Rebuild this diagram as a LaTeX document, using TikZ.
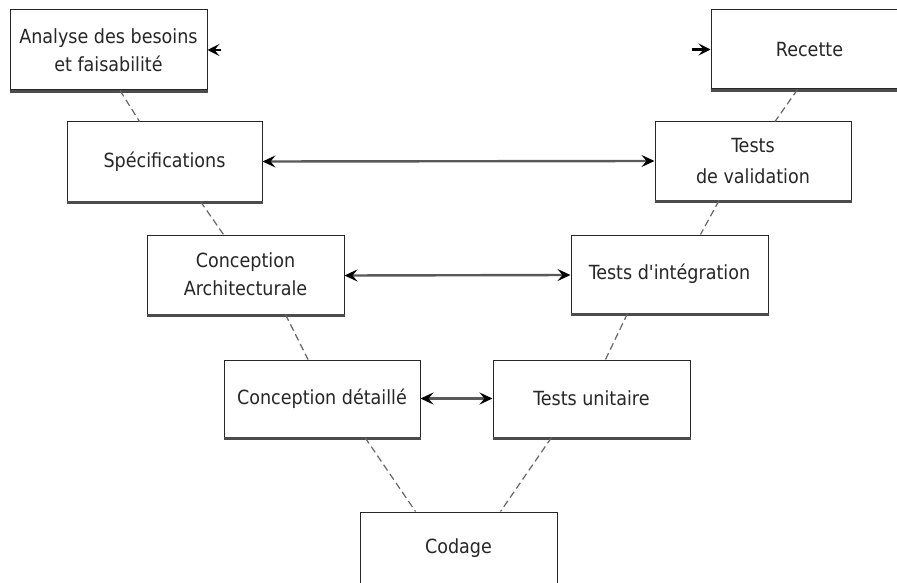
\documentclass[tikz,border=0pt]{standalone}
\usepackage{fontspec}
\setmainfont{DejaVu Sans Condensed}[Ligatures=TeXOff]
\usetikzlibrary{arrows.meta}
\begin{document}
\begin{tikzpicture}[x=1pt,y=-1pt,
  phase/.style={draw=black!85,line width=1pt,fill=white,align=center,
    inner sep=0pt,font=\fontsize{19.5}{28}\selectfont,text=black!85},
  base/.style={draw=black!70,line width=3pt},
  link/.style={draw=black!60,line width=1.2pt,dash pattern=on 7pt off 4pt},
  trace/.style={draw=black!65,line width=2.4pt,{Stealth[length=13pt,width=12pt,inset=5pt,black]}-{Stealth[length=13pt,width=12pt,inset=5pt,black]}},
  half/.style={draw=black,line width=2.5pt,-{Stealth[length=12pt,width=12pt,inset=5pt,black]}}]
\clip (0,0) rectangle (897,583);
\fill[white] (0,0) rectangle (897,583);

% left branch of the V
\node[phase,minimum width=197pt,minimum height=80pt] (ana) at (108.5,50) {Analyse des besoins\\et faisabilité};
\node[phase,minimum width=195pt,minimum height=79pt] (spe) at (164.5,161.5) {Spécifications};
\node[phase,minimum width=197pt,minimum height=79pt] (arc) at (245.5,274.5) {Conception\\Architecturale};
\node[phase,minimum width=196pt,minimum height=77pt] (det) at (322,398.5) {Conception détaillé};
% bottom of the V
\node[phase,minimum width=197pt,minimum height=80pt] (cod) at (458.5,552) {\raisebox{12pt}{Codage}};
% right branch of the V
\node[phase,minimum width=197pt,minimum height=77pt] (uni) at (591.5,398.5) {Tests unitaire};
\node[phase,minimum width=197pt,minimum height=78pt] (int) at (669.5,274) {Tests d'intégration};
\node[phase,minimum width=196pt,minimum height=78pt,font=\fontsize{19.5}{31}\selectfont] (val) at (753,161) {Tests\\de validation};
\node[phase,minimum width=197pt,minimum height=79pt] (rec) at (809.5,49.5) {Recette};

% heavier lower edges
\foreach \n in {ana,spe,arc,det,uni,int,val,rec}
  \draw[base] ([yshift=-1pt]\n.south west) -- ([yshift=-1pt]\n.south east);

% sequence links
\draw[link] ([xshift=11.5pt]ana.south) -- ([xshift=-25pt]spe.north);
\draw[link] ([xshift=36pt]spe.south) -- ([xshift=-22pt]arc.north);
\draw[link] ([xshift=40pt]arc.south) -- ([xshift=-14pt]det.north);
\draw[link] ([xshift=43pt]det.south) -- ([xshift=-43pt]cod.north);
\draw[link] ([xshift=-40pt]uni.south) -- ([xshift=42pt]cod.north);
\draw[link] ([xshift=-42pt]int.south) -- ([xshift=14pt]uni.north);
\draw[link] ([xshift=-34pt]val.south) -- ([xshift=31pt]int.north);
\draw[link] ([xshift=-12pt]rec.south) -- ([xshift=22pt]val.north);

% verification links
\coordinate (anaend) at (221,50);
\coordinate (recend) at (692,49.5);
\draw[half] (anaend) -- (ana.east);
\draw[half] (recend) -- (rec.west);
\draw[trace] (spe.east) -- (val.west);
\draw[trace] ([yshift=-1pt]arc.east) -- ([yshift=-1pt]int.west);
\draw[trace] (det.east) -- (uni.west);
\end{tikzpicture}
\end{document}
